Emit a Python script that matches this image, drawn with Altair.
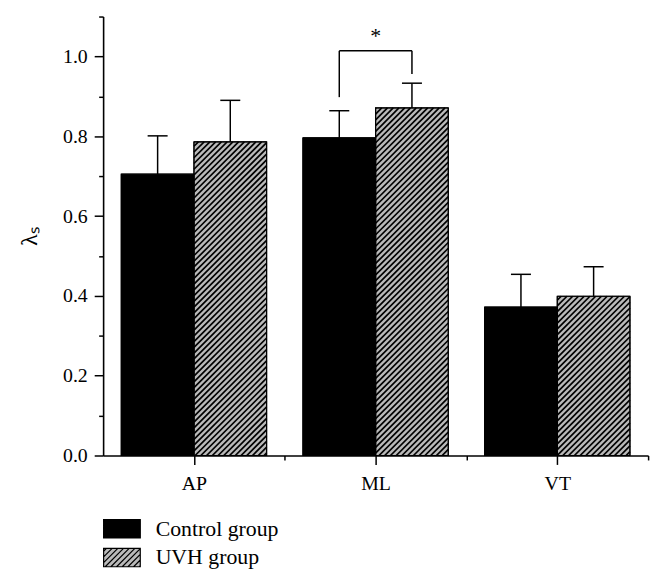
import math
import altair as alt
import pandas as pd

# ---------------- data ----------------
categories = ["AP", "ML", "VT"]
groups = ["Control group", "UVH group"]
control_mean = [0.705, 0.796, 0.372]
control_sd = [0.096, 0.068, 0.082]
uvh_mean = [0.786, 0.871, 0.399]
uvh_sd = [0.104, 0.062, 0.074]
y_tick_values = [0.0, 0.1, 0.2, 0.3, 0.4, 0.5, 0.6, 0.7, 0.8, 0.9, 1.0, 1.1]
x_tick_values = [0.5, 1.0, 1.5, 2.0, 2.5, 3.0]
sig_category = "ML"
sig_label = "*"
sig_bracket_top = 1.014
sig_left_bottom = 0.898
sig_right_bottom = 0.956
sig_label_y = 1.05
y_title = "λₛ"

# ---------------- geometry helpers ----------------
W, H = 550, 443
X_MAX, Y_MAX = 3.0, 1.1
BAR_W = 0.4
CAP_HALF = 0.055
FONT = "Liberation Serif"

rows = []
for i, c in enumerate(categories):
    center = i + 0.5
    for g, m, s, x0 in [
        (groups[0], control_mean[i], control_sd[i], center - BAR_W),
        (groups[1], uvh_mean[i], uvh_sd[i], center),
    ]:
        xc = x0 + BAR_W / 2
        rows.append(dict(cat=c, group=g, mean=m, err=m + s, x0=x0, x1=x0 + BAR_W,
                         xc=xc, cap0=xc - CAP_HALF, cap1=xc + CAP_HALF))
df = pd.DataFrame(rows)

# hatch lines (45 degrees in screen space) inside the UVH bars
px_x = W / X_MAX
px_y = H / Y_MAX
SP = 5.8
hatch = []
for r in rows:
    if r["group"] != groups[1]:
        continue
    X0, X1 = r["x0"] * px_x, r["x1"] * px_x
    Ht = r["mean"] * px_y
    kmin = math.floor((X0 - Ht) / SP) - 1
    kmax = math.ceil(X1 / SP) + 1
    for k in range(kmin, kmax + 1):
        c = -k * SP
        a = max(X0, -c)
        b = min(X1, Ht - c)
        if b - a > 0.3:
            hatch.append(dict(hx0=a / px_x, hx1=b / px_x,
                              hy0=(a + c) / px_y, hy1=(b + c) / px_y))
hatch_df = pd.DataFrame(hatch)

# significance bracket
sig_i = categories.index(sig_category)
left_x = df[(df.cat == sig_category) & (df.group == groups[0])].xc.iloc[0]
right_x = df[(df.cat == sig_category) & (df.group == groups[1])].xc.iloc[0]
bracket_df = pd.DataFrame([
    dict(bx0=left_x, bx1=left_x, by0=sig_left_bottom, by1=sig_bracket_top),
    dict(bx0=left_x, bx1=right_x, by0=sig_bracket_top, by1=sig_bracket_top),
    dict(bx0=right_x, bx1=right_x, by0=sig_right_bottom, by1=sig_bracket_top),
])
star_df = pd.DataFrame([dict(sx=sig_i + 0.5, sy=sig_label_y, t=sig_label)])

# legend symbol: rectangle with diagonal hatch lines
parts = ["M-2,-1H2V1H-2Z"]
step = 0.62
cc = -3.0 + step / 2
while cc < 3.0:
    a = max(-2.0, cc - 1)
    b = min(2.0, cc + 1)
    if b > a:
        parts.append(f"M{a:.3f},{cc - a:.3f}L{b:.3f},{cc - b:.3f}")
    cc += step
legend_path = "".join(parts)

# ---------------- scales / axes ----------------
x_scale = alt.Scale(domain=[0, X_MAX], nice=False, zero=False)
y_scale = alt.Scale(domain=[0, Y_MAX], nice=False)

x_axis = alt.Axis(
    values=x_tick_values,
    labelExpr="datum.value == 0.5 ? 'AP' : datum.value == 1.5 ? 'ML' : datum.value == 2.5 ? 'VT' : ''",
    tickSize={"condition": {"test": "datum.value % 1 == 0.5", "value": 9}, "value": 4.5},
    title=None, grid=False, labelPadding=9, labelFontSize=20, labelFont=FONT,
)
y_axis = alt.Axis(
    values=y_tick_values,
    labelExpr="round(datum.value*10) % 2 == 0 ? format(datum.value, '.1f') : ''",
    tickSize={"condition": {"test": "round(datum.value*10) % 2 == 0", "value": 9}, "value": 4.5},
    title=y_title, grid=False, labelPadding=7, labelFontSize=20, labelFont=FONT,
    titleFont=FONT, titleFontSize=24, titleFontWeight="normal", titlePadding=21,
)

color_scale = alt.Scale(domain=groups, range=["#000000", "#bababa"])

base = alt.Chart(df)

bars = base.mark_bar(stroke="black", strokeWidth=1).encode(
    x=alt.X("x0:Q", scale=x_scale, axis=x_axis),
    x2="x1:Q",
    y=alt.Y("mean:Q", scale=y_scale, axis=y_axis),
    y2=alt.datum(0),
    color=alt.Color("group:N", scale=color_scale, legend=alt.Legend(
        title=None, orient="none", legendX=8, legendY=506, direction="vertical",
        symbolType=legend_path, symbolSize=342, symbolStrokeColor="black",
        symbolStrokeWidth=1.2, labelFont=FONT, labelFontSize=22, labelColor="black",
        labelOffset=23, rowPadding=5, padding=0, symbolOpacity=1,
    )),
)

hatch_lines = alt.Chart(hatch_df).mark_rule(color="black", strokeWidth=1.7, clip=True).encode(
    x=alt.X("hx0:Q", scale=x_scale), x2="hx1:Q",
    y=alt.Y("hy0:Q", scale=y_scale), y2="hy1:Q",
)

outlines = base.mark_bar(fillOpacity=0, stroke="black", strokeWidth=1.2).encode(
    x="x0:Q", x2="x1:Q", y="mean:Q", y2=alt.datum(0),
)

err_v = base.mark_rule(color="black", strokeWidth=1.5).encode(
    x="xc:Q", y="mean:Q", y2="err:Q",
)
err_cap = base.mark_rule(color="black", strokeWidth=1.5).encode(
    x="cap0:Q", x2="cap1:Q", y="err:Q",
)

bracket = alt.Chart(bracket_df).mark_rule(color="black", strokeWidth=1.5).encode(
    x=alt.X("bx0:Q", scale=x_scale), x2="bx1:Q",
    y=alt.Y("by0:Q", scale=y_scale), y2="by1:Q",
)
star = alt.Chart(star_df).mark_text(font=FONT, fontSize=22, color="black").encode(
    x=alt.X("sx:Q", scale=x_scale), y=alt.Y("sy:Q", scale=y_scale), text="t:N",
)

chart = alt.layer(bars, hatch_lines, outlines, err_v, err_cap, bracket, star).properties(
    width=W, height=H,
    autosize=alt.AutoSizeParams(type="none"),
    padding={"left": 96, "top": 6, "right": 12, "bottom": 120},
).configure_view(stroke=None).configure_axis(
    domainColor="black", domainWidth=1.6, tickColor="black", tickWidth=1.5,
    labelColor="black", titleColor="black",
)

chart.save("out.html", embed_options={"renderer": "svg", "actions": False})
